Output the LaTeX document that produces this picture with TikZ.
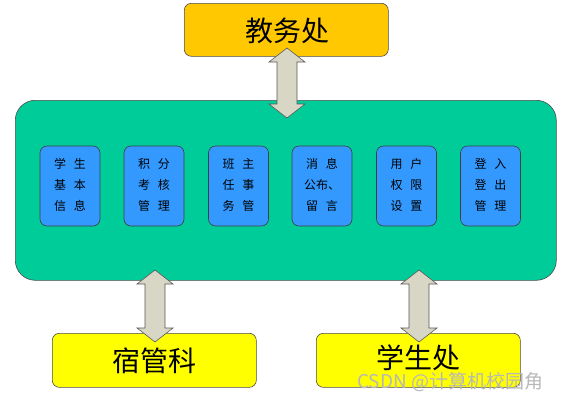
\documentclass[tikz,border=0pt]{standalone}
\usepackage{fontspec}
\setmainfont{Noto Sans CJK SC}
\definecolor{topbox}{RGB}{255,200,0}
\definecolor{botbox}{RGB}{255,255,0}
\definecolor{panel}{RGB}{0,204,153}
\definecolor{mod}{RGB}{51,153,255}
\definecolor{arrowfill}{RGB}{216,214,196}
\begin{document}
\begin{tikzpicture}[x=1pt,y=-1pt,
  bigbox/.style={draw=black!70, line width=0.6pt, rounded corners=7pt},
  bigtext/.style={font=\fontsize{28}{30}\selectfont},
  modbox/.style={draw=black!75, fill=mod, line width=0.6pt, rounded corners=7pt, minimum width=60pt, minimum height=80pt, inner sep=0pt},
  modrow/.style={font=\fontsize{12}{14}\selectfont, inner sep=0pt},
  barrow/.style={draw=black!65, fill=arrowfill, line width=0.6pt, line join=miter}]
\useasboundingbox (0,0) rectangle (563,400);
% top box
\node[bigbox, fill=topbox, minimum width=204pt, minimum height=53pt, anchor=north west] (jwc) at (184,3) {};
\node[bigtext] (jwct) at (287,31) {教务处};
% panel
\node[bigbox, fill=panel, rounded corners=20pt, minimum width=541pt, minimum height=180pt, anchor=north west] (panel) at (15,100) {};
% bottom boxes
\node[bigbox, fill=botbox, minimum width=204pt, minimum height=54pt, anchor=north west] (sgk) at (52,333) {};
\node[bigtext] (sgkt) at (154,361) {宿管科};
\node[bigbox, fill=botbox, minimum width=204pt, minimum height=54pt, anchor=north west] (xsc) at (316,333) {};
\node[bigtext] (xsct) at (418,358) {学生处};
% modules
\foreach \i/\x/\a/\b/\c in {
  1/70/学\hspace{8pt}生/基\hspace{8pt}本/信\hspace{8pt}息,
  2/154/积\hspace{8pt}分/考\hspace{8pt}核/管\hspace{8pt}理,
  3/238.5/班\hspace{8pt}主/任\hspace{8pt}事/务\hspace{8pt}管,
  4/322/消\hspace{8pt}息/公布、/留\hspace{8pt}言,
  5/406.5/用\hspace{8pt}户/权\hspace{8pt}限/设\hspace{8pt}置,
  6/490.5/登\hspace{8pt}入/登\hspace{8pt}出/管\hspace{8pt}理}{
  \node[modbox] (m\i) at (\x,186) {};
  \node[modrow] (m\i a) at (\x,164) {\a};
  \node[modrow] (m\i b) at (\x,185) {\b};
  \node[modrow] (m\i c) at (\x,206) {\c};
}
% block arrows
\newcommand{\blockarrow}[3]{% x, ytop, ybot
  \draw[barrow] (#1,#2) -- (#1+18,#2+14) -- (#1+10,#2+14) -- (#1+10,#3-14) -- (#1+18,#3-14)
    -- (#1,#3) -- (#1-18,#3-14) -- (#1-10,#3-14) -- (#1-10,#2+14) -- (#1-18,#2+14) -- cycle;}
\blockarrow{287}{48}{118}
\blockarrow{155}{270}{342}
\blockarrow{419}{270}{342}
% watermark
\node[anchor=west, text=black!28, font=\fontsize{19}{21}\selectfont, inner sep=0pt] (wm) at (357,382) {CSDN @计算机校园角};
\end{tikzpicture}
\end{document}
